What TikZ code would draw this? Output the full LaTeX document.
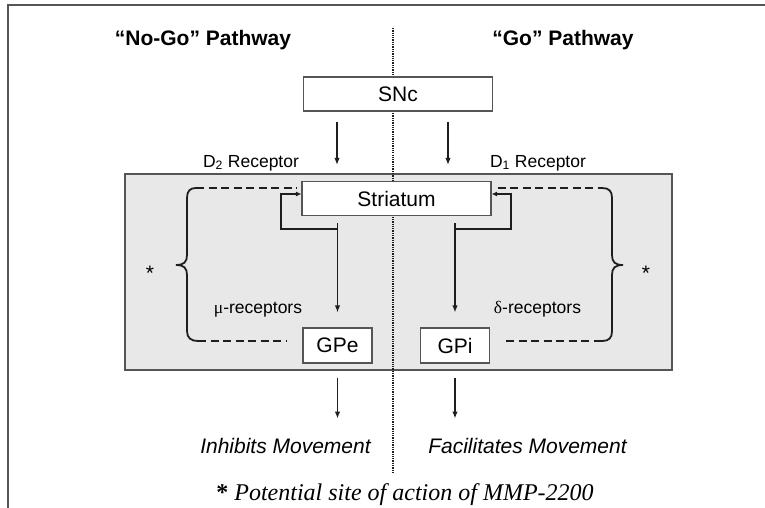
\documentclass[tikz,border=0pt]{standalone}
\usepackage{fontspec}
\setmainfont{Liberation Sans}
\newfontfamily\serifface{Liberation Serif}
\usetikzlibrary{arrows.meta,positioning,calc}
\definecolor{ink}{RGB}{30,30,30}
\definecolor{rim}{RGB}{85,85,85}
\definecolor{panel}{RGB}{232,232,232}
\tikzset{
  title/.style={font=\fontsize{21}{25}\selectfont\bfseries,anchor=base,inner sep=0pt},
  lbl/.style={font=\fontsize{17.5}{21}\selectfont,anchor=base,inner sep=0pt},
  move/.style={font=\fontsize{21}{25}\selectfont\itshape,anchor=base,inner sep=0pt},
  star/.style={font=\fontsize{21}{25}\selectfont,anchor=base,inner sep=0pt},
  note/.style={font=\fontsize{24}{28}\selectfont\serifface,anchor=base,inner sep=0pt},
  cell/.style={draw=rim,fill=white,line width=1.1pt,minimum width=189pt,minimum height=34pt,
    inner sep=0pt,font=\fontsize{21}{25}\selectfont},
  gpbox/.style={cell,minimum width=69pt,minimum height=35pt},
  arr/.style={-{Latex[length=7pt,width=5.5pt]},line width=1.5pt,ink},
  fb/.style={-{Latex[length=5.5pt,width=5pt]},line width=1.8pt,ink},
  site/.style={line width=2pt,ink,dash pattern=on 8pt off 4.5pt},
  brace/.style={line width=1.8pt,ink},
}

\begin{document}
\begin{tikzpicture}[x=1pt,y=-1pt]
\useasboundingbox (0,0) rectangle (765,508);
% frame and shaded basal ganglia panel
\draw[rim,line width=1.2pt] (8,508) -- (8,5) -- (765,5);
\node[fill=panel,draw=rim,line width=1.2pt,minimum width=547pt,minimum height=196pt,
  inner sep=0pt] (panel) at (398.5,272) {};
% divider between the two pathways
\coordinate (divtop) at (393,28);
\coordinate (divbot) at (393,473);
\draw[densely dotted,line width=1.3pt,ink] (divtop) -- (divbot);
% headings
\node[title] (nogo) at (203,46) {“No-Go” Pathway};
\node[title] (go) at (563,46) {“Go” Pathway};
% boxes
\node[cell] (snc) at (398,94) {SNc};
\node[cell] (str) at (396.5,198.5) {Striatum};
\node[gpbox] (gpe) at (337.5,345.5) {GPe};
\node[gpbox] (gpi) at (455,345.5) {GPi};
% dopamine input
\coordinate (d2col) at (337,0);
\coordinate (d1col) at (448,0);
\draw[arr] ([yshift=-10pt]snc.south -| d2col) -- ([yshift=16pt]str.north -| d2col);
\draw[arr] ([yshift=-10pt]snc.south -| d1col) -- ([yshift=16pt]str.north -| d1col);
\node[lbl] (d2) at (251,167) {D\textsubscript{2} Receptor};
\node[lbl] (d1) at (538,167) {D\textsubscript{1} Receptor};
% striatal output with feedback loops
\coordinate (lbr) at (337,229);
\coordinate (lcorner) at (281,194);
\coordinate (rbr) at (455,229);
\coordinate (rcorner) at (511,194);
\draw[arr] ([yshift=-7pt]str.south -| gpe.north) -- ([yshift=15pt]gpe.north);
\draw[arr] ([yshift=-7pt]str.south -| gpi.north) -- ([yshift=15pt]gpi.north);
\draw[fb] (lbr) -| (lcorner) -- (str.west |- lcorner);
\draw[fb] (rbr) -| (rcorner) -- (str.east |- rcorner);
\node[lbl] (mu) at (258,313) {{\serifface μ}-receptors};
\node[lbl] (delta) at (537.5,313) {{\serifface δ}-receptors};
% braces marking the opioid sites
\coordinate (bLt) at (196,188);
\coordinate (bLb) at (198,341);
\coordinate (bRt) at (602,188);
\coordinate (bRb) at (602,341);
\draw[brace] (bLt) .. controls (190,188) and (187,191) .. (187,198) -- (187,255)
  .. controls (187,262) and (184,265) .. (176,265)
  .. controls (184,265) and (187,268) .. (187,275) -- (187,331)
  .. controls (187,338) and (191,341) .. (bLb);
\draw[brace] (bRt) .. controls (609,188) and (612,191) .. (612,198) -- (612,255)
  .. controls (612,262) and (615,265) .. (623,265)
  .. controls (615,265) and (612,268) .. (612,275) -- (612,331)
  .. controls (612,338) and (609,341) .. (bRb);
\draw[site] (bLt) -- ([xshift=-5pt]str.west |- bLt);
\draw[site] (bLb) -- ([xshift=-15pt]gpe.west |- bLb);
\draw[site] ([xshift=6pt]str.east |- bRt) -- (bRt);
\draw[site] ([xshift=16pt]gpi.east |- bRb) -- (bRb);
\node[star] (starL) at (150,280) {*};
\node[star] (starR) at (646,280) {*};
% outputs
\draw[arr] ([yshift=-14pt]gpe.south) -- ([yshift=-55pt]gpe.south);
\draw[arr] ([yshift=-14pt]gpi.south) -- ([yshift=-55pt]gpi.south);
\node[move] (inh) at (285.5,453) {Inhibits Movement};
\node[move] (fac) at (527.5,453) {Facilitates Movement};
\node[note] (foot) at (405,500) {{\bfseries *} \itshape Potential site of action of MMP-2200};
\end{tikzpicture}
\end{document}
